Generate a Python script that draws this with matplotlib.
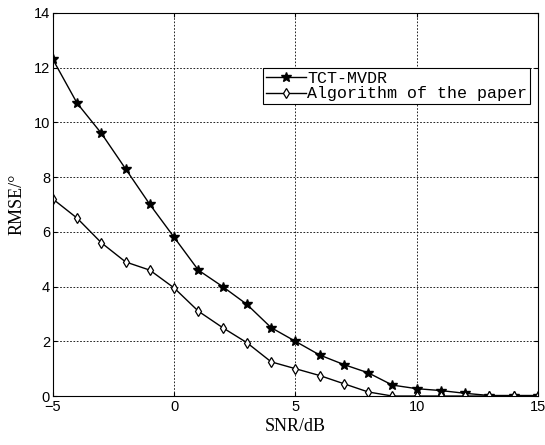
import matplotlib
matplotlib.use("Agg")
import matplotlib.pyplot as plt
import numpy as np

# dados
snr = list(range(-5, 16))
tct_mvdr = [12.3, 10.7, 9.6, 8.3, 7.0, 5.8, 4.6, 4.0, 3.35, 2.5, 2.0,
            1.5, 1.15, 0.85, 0.4, 0.27, 0.2, 0.1, 0.02, 0.02, 0.02]
proposto = [7.2, 6.5, 5.6, 4.9, 4.6, 3.95, 3.1, 2.5, 1.95, 1.25, 1.0,
            0.75, 0.45, 0.15, 0.0, 0.0, 0.0, 0.0, 0.0, 0.0, 0.0]
labels = ['TCT-MVDR', 'Algorithm of the paper']

fig = plt.figure(figsize=(5.45, 4.45), dpi=100)
ax = fig.add_axes([0.097, 0.110, 0.890, 0.861])

ax.plot(snr, tct_mvdr, color='black', linewidth=1.0, marker='*', markersize=7.5,
        markerfacecolor='black', label=labels[0])
ax.plot(snr, proposto, color='black', linewidth=1.0, marker='d', markersize=5.5,
        markerfacecolor='white', markeredgewidth=0.9, label=labels[1])

ax.set_xlim(-5, 15)
ax.set_ylim(0, 14)
ax.set_xticks([-5, 0, 5, 10, 15])
ax.set_yticks(np.arange(0, 15, 2))
ax.tick_params(direction='in', length=3, labelsize=10.5, pad=2, top=True, right=True)
ax.tick_params(axis='x', pad=3)
for t in ax.get_xticklabels() + ax.get_yticklabels():
    t.set_family('Liberation Sans')

ax.grid(True, color='black', linestyle=(0, (2, 2)), linewidth=0.6)
ax.set_xlabel('SNR/dB', family='Liberation Serif', fontsize=13, labelpad=3)
ax.set_ylabel('RMSE/°', family='Liberation Serif', fontsize=13, labelpad=6)

leg = ax.legend(loc='upper right', bbox_to_anchor=(0.9835, 0.856),
                prop={'family': 'Liberation Mono', 'size': 12},
                fancybox=False, framealpha=1, edgecolor='black',
                handlelength=2.4, handletextpad=0.1, borderpad=0.15,
                labelspacing=0.05, borderaxespad=0)
leg.get_frame().set_linewidth(0.8)

fig.savefig('out.png', dpi=100)
